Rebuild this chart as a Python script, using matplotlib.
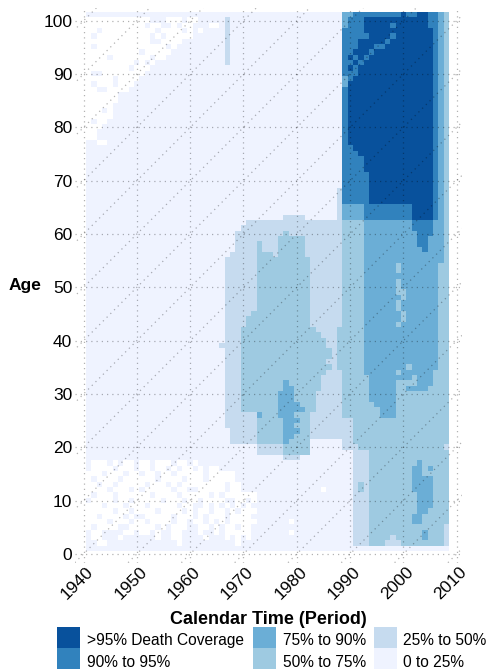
import numpy as np
import matplotlib
matplotlib.use("Agg")
import matplotlib.pyplot as plt
from matplotlib.colors import ListedColormap, BoundaryNorm
from matplotlib.patches import Rectangle
from matplotlib import transforms

plt.rcParams["font.family"] = ["Liberation Sans", "DejaVu Sans"]

# cells: one year wide, one age tall
years = np.arange(1941, 2009)
ages = np.arange(1, 102)

# coverage class per cell, rows from age 101 down to age 1, columns 1941..2008
# groups: 1941-50 1951-60 1961-70 1971-80 1981-88 1989-2008
# '.' = no deaths recorded, 1 = 0-25%, 2 = 25-50%, 3 = 50-75%, 4 = 75-90%, 5 = 90-95%, 6 = >95%
coverage_rows = [
    "1111111111 1111111111 1111111111 1111111111 11111111 44555555555655665543",  # 101
    ".......... ..111...1. .111112111 1111111111 11111111 45556666666666665543",  # 100
    ".......... .1..11.1.. 111..12111 1111111111 11111111 45556666656666665543",  # 99
    "..1....... ...1....1. 1.11112111 1111111111 11111111 55556666666666666543",  # 98
    ".1........ ..1.1..... 1111112111 1111111111 11111111 55555666656666666543",  # 97
    ".......... ..11....11 1111112111 1111111111 11111111 55566666566666666543",  # 96
    ".1........ .....1.111 1111112111 1111111111 11111111 55566655666666666543",  # 95
    ".......... 1.....1111 1111112111 1111111111 11111111 55666566666666666543",  # 94
    "....1..... ..1..11111 1111112111 1111111111 11111111 56565666666666666543",  # 93
    ".........1 .1.1111111 1111112111 1111111111 11111111 55656666666666666543",  # 92
    "........1. ..11111111 1111111111 1111111111 11111111 56566666666666666543",  # 91
    ".11....... .111111111 1111111111 1111111111 11111111 55566666666666666543",  # 90
    ".....1.... 1111111111 1111111111 1111111111 11111111 45666666666666666543",  # 89
    ".1...1...1 1111111111 1111111111 1111111111 11111111 46666666666666666543",  # 88
    "..11....11 1111111111 1111111111 1111111111 11111111 56666666666666666543",  # 87
    "......1111 1111111111 1111111111 1111111111 11111111 56666666666666666543",  # 86
    "......1111 1111111111 1111111111 1111111111 11111111 56666666666666666543",  # 85
    ".....11111 1111111111 1111111111 1111111111 11111111 56666666666666666543",  # 84
    "...1.11111 1111111111 1111111111 1111111111 11111111 56666666666666666543",  # 83
    ".....11111 1111111111 1111111111 1111111111 11111111 56666666666666666543",  # 82
    ".1..111111 1111111111 1111111111 1111111111 11111111 56666666666666666543",  # 81
    "...1111111 1111111111 1111111111 1111111111 11111111 56666666666666666543",  # 80
    "..11111111 1111111111 1111111111 1111111111 11111111 56666666666666666543",  # 79
    "..11111111 1111111111 1111111111 1111111111 11111111 56666666666666666543",  # 78
    "11..111111 1111111111 1111111111 1111111111 11111111 56666666666666666543",  # 77
    "1111111111 1111111111 1111111111 1111111111 11111111 55666666666666666543",  # 76
    "1111111111 1111111111 1111111111 1111111111 11111111 55566666666666666543",  # 75
    "1111111111 1111111111 1111111111 1111111111 11111111 55556666666666666543",  # 74
    "1111111111 1111111111 1111111111 1111111111 11111111 55556666666666666543",  # 73
    "1111111111 1111111111 1111111111 1111111111 11111111 55556666666666666543",  # 72
    "1111111111 1111111111 1111111111 1111111111 11111111 55555666666666666543",  # 71
    "1111111111 1111111111 1111111111 1111111111 11111111 55555666666666666543",  # 70
    "1111111111 1111111111 1111111111 1111111111 11111111 55555666666666666543",  # 69
    "1111111111 1111111111 1111111111 1111111111 11111112 55555666666666666543",  # 68
    "1111111111 1111111111 1111111111 1111111111 11111112 55555666666666666543",  # 67
    "1111111111 1111111111 1111111111 1111111111 11111112 55555666666666666543",  # 66
    "1111111111 1111111111 1111111111 1111111111 11111112 44445555555556666543",  # 65
    "1111111111 1111111111 1111111111 1111111111 11111112 44445555555556666543",  # 64
    "1111111111 1111111111 1111111111 1111111222 21111112 44445555555556666543",  # 63
    "1111111111 1111111111 1111111111 2222222222 22222222 33334444444445555443",  # 62
    "1111111111 1111111111 1111111112 2222222222 22222222 33334444444445555443",  # 61
    "1111111111 1111111111 1111111122 2222222322 22222222 33334444444444555443",  # 60
    "1111111111 1111111111 1111111122 2222223333 32222222 33334444444444554443",  # 59
    "1111111111 1111111111 1111111122 2232223333 32222222 33334444444444554443",  # 58
    "1111111111 1111111111 1111111122 2232223333 32222222 33334444444444454443",  # 57
    "1111111111 1111111111 1111111222 2233323333 32222222 33334444444444444443",  # 56
    "1111111111 1111111111 1111112222 2233333333 33222222 33334444444444444443",  # 55
    "1111111111 1111111111 1111112222 2233333333 33222222 33334444443444444433",  # 54
    "1111111111 1111111111 1111112222 2233333333 33222222 33334444443444444433",  # 53
    "1111111111 1111111111 1111112222 2233333333 33222222 33334444444444444433",  # 52
    "1111111111 1111111111 1111112222 2233333333 33222222 33334444443444444433",  # 51
    "1111111111 1111111111 1111112222 2233333333 33222222 33334444443444444433",  # 50
    "1111111111 1111111111 1111112222 2233333333 33222222 33334444443344444433",  # 49
    "1111111111 1111111111 1111112222 2233333333 33222222 33334444444344444433",  # 48
    "1111111111 1111111111 1111112222 2233333333 33222222 33334444443444444433",  # 47
    "1111111111 1111111111 1111112222 2233333333 33222222 33334444443444444433",  # 46
    "1111111111 1111111111 1111112222 2333333333 33222222 33334444444344444433",  # 45
    "1111111111 1111111111 1111112222 3333333333 33222222 33334444444344444433",  # 44
    "1111111111 1111111111 1111112222 3333333333 33222222 33334444443444444433",  # 43
    "1111111111 1111111111 1111112223 3333333333 33322223 33334444444444444433",  # 42
    "1111111111 1111111111 1111112223 3333333333 33332223 33334444444444444433",  # 41
    "1111111111 1111111111 1111112223 3333333333 33333223 33334444444444444433",  # 40
    "1111111111 1111111111 1111122223 3333333333 33333223 33334444444444444433",  # 39
    "1111111111 1111111111 1111112223 3333333333 33333323 33334444444444444433",  # 38
    "1111111111 1111111111 1111112223 3333333333 33333323 33334444444444444433",  # 37
    "1111111111 1111111111 1111112223 3333333333 33333223 33334444444444444433",  # 36
    "1111111111 1111111111 1111112223 3333333333 33333323 33334444444434444433",  # 35
    "1111111111 1111111111 1111112223 3333333333 33333222 33334444443444444333",  # 34
    "1111111111 1111111111 1111112223 3333333333 33332222 33333444444443444333",  # 33
    "1111111111 1111111111 1111112223 3333333433 33332222 33333444443333444333",  # 32
    "1111111111 1111111111 1111112223 3333333443 33332222 33333444443344443333",  # 31
    "1111111111 1111111111 1111112223 3333334443 33322222 33333444443333333333",  # 30
    "1111111111 1111111111 1111112223 3333334443 33322222 33333444443333333333",  # 29
    "1111111111 1111111111 1111112223 3333334444 33322222 33333344443333333333",  # 28
    "1111111111 1111111111 1111112223 3333334444 43322222 33333334443333333333",  # 27
    "1111111111 1111111111 1111112222 2243334443 33222222 33333334443333333333",  # 26
    "1111111111 1111111111 1111112222 2233333444 33222222 22333333333333333333",  # 25
    "1111111111 1111111111 1111112222 2233333443 33222222 22333333333333333333",  # 24
    "1111111111 1111111111 1111111222 2233333444 33222222 22333333333333333333",  # 23
    "1111111111 1111111111 1111111222 2233333443 33222222 22333333333333333333",  # 22
    "1111111111 1111111111 1111111222 2233333433 33111111 22333333333333333333",  # 21
    "1111111111 1111111111 1111111111 1122222333 33111111 22233333333333333332",  # 20
    "1111111111 1111111111 1111111111 1122222333 33111111 11222333333333333333",  # 19
    "1111111111 1111111111 1111111111 1111111222 11111111 11222333333333333333",  # 18
    "1...1.1..1 ..1...1..1 .111111111 1111111111 11111111 11222333333333433333",  # 17
    "1....1...1 ..1..1.1.. 1.1..11111 1111111111 11111111 11222333333334434333",  # 16
    "...1...1.. 1..1..1... ..1.....11 1111111111 11111111 11222333333334433333",  # 15
    ".1....1... ...1....1. ..1.....11 1111111111 11111111 11222333333334444333",  # 14
    "..1..1.... .1...1.1.. ......1..1 1111111111 11111111 11232333333334444333",  # 13
    "....1...1. 1.....1..1 1.....1..1 1111111111 1111.111 11232333333334444333",  # 12
    ".1...1.... ..1....1.. ...1.1.... ..11111111 11111111 11222333333333444333",  # 11
    "1....1..1. ....1...1. .1....11.. 1.11111111 11111111 11222333333333444333",  # 10
    "...1...1.. .1.....1.. 11.1.1.1.1 .111111111 11111111 11222333333333444333",  # 9
    ".....1..1. ...1....1. 1..1..1.1. ..11111111 11111111 11222333333333443333",  # 8
    "..1....1.1 1.....1... 1.1...1... .111111111 11111111 11222333333334433333",  # 7
    "....1...1. .1....1..1 ..1.1.1... ..111111.1 11111111 11222333333334433333",  # 6
    ".1....11.. ...1.1...1 1..1.1..1. .111111111 11111111 11222333333333333332",  # 5
    "1..1111..1 ..1.11..11 1.11.1.... .1111111.1 11111111 11222333333333343332",  # 4
    "1..111.111 111.11..11 11.111.1.1 .111111111 11111111 11222333323333343332",  # 3
    "11..111111 1111111.11 11111111.1 1111111111 11111111 11222333222333333332",  # 2
    "1111111111 1111111111 1111111111 1111111111 11111111 11111111111111111111",  # 1
]

class_labels = [">95% Death Coverage", "90% to 95%", "75% to 90%",
                "50% to 75%", "25% to 50%", "0 to 25%"]
class_colors = ["#08519c", "#3182bd", "#6baed6", "#9ecae1", "#c6dbef", "#eff3ff"]

x_ticks = [1940, 1950, 1960, 1970, 1980, 1990, 2000, 2010]
y_ticks = [0, 10, 20, 30, 40, 50, 60, 70, 80, 90, 100]
cohorts = [1840, 1850, 1860, 1870, 1880, 1890, 1900, 1910, 1920,
           1930, 1940, 1950, 1960, 1970, 1980, 1990, 2000, 2010]

grid = np.full((len(ages), len(years)), np.nan)
for r, row in enumerate(coverage_rows):
    cells = row.replace(" ", "")
    assert len(cells) == len(years), (r, len(cells))
    for c, ch in enumerate(cells):
        if ch != ".":
            grid[r, c] = int(ch)
assert len(coverage_rows) == len(ages)

W, H = 490, 671
fig = plt.figure(figsize=(W / 100, H / 100), dpi=100)


def fx(px):
    return px / W


def fy(py):
    return 1 - py / H


ax = fig.add_axes([fx(75), fy(563), 387 / W, 555 / H])

# colour 1..6 from lightest to darkest
cmap = ListedColormap(class_colors[::-1])
norm = BoundaryNorm([0.5, 1.5, 2.5, 3.5, 4.5, 5.5, 6.5], cmap.N)
ax.imshow(np.ma.masked_invalid(grid), cmap=cmap, norm=norm, origin="upper",
          extent=(years[0] - 0.5, years[-1] + 0.5, ages[0] - 0.5, ages[-1] + 0.5),
          aspect="auto", interpolation="nearest", zorder=1)

ax.set_xlim(1938.4, 2011.0)
ax.set_ylim(-1.7, 102.4)
for s in ax.spines.values():
    s.set_visible(False)

gkw = dict(color="black", alpha=0.3, lw=0.9, linestyle=(0, (1, 3.2)), zorder=3)
for v in y_ticks:
    ax.axhline(v, **gkw)
for v in x_ticks:
    ax.axvline(v, **gkw)
# cohort diagonals
for c in cohorts:
    ax.plot([c - 10, c + 120], [-10, 120], **gkw)

ax.set_yticks(y_ticks)
ax.set_yticklabels([str(v) for v in y_ticks])
ax.tick_params(axis="y", length=0, pad=2, labelsize=12.5)
ax.set_xticks([])

# rotated year labels
off = transforms.ScaledTranslation(-6 / 100, -20 / 100, fig.dpi_scale_trans)
for v in x_ticks:
    ax.text(v, 0, str(v), transform=ax.get_xaxis_transform() + off,
            rotation=45, rotation_mode="anchor", ha="center", va="center",
            fontsize=12.5, clip_on=False)

fig.text(fx(268.5), fy(623.5), "Calendar Time (Period)", ha="center",
         va="baseline", fontsize=13, fontweight="bold")
fig.text(fx(25), fy(290), "Age", ha="center", va="baseline",
         fontsize=12.5, fontweight="bold")

# legend, three columns of two
patch_x = [57, 253, 374]
text_x = [87, 283, 403]
patch_y = [627, 648]
base_y = [645, 667]
for i, (lab, col) in enumerate(zip(class_labels, class_colors)):
    c, r = divmod(i, 2)
    fig.add_artist(Rectangle((fx(patch_x[c]), fy(patch_y[r] + 21)), 23 / W, 21 / H,
                             transform=fig.transFigure, facecolor=col,
                             edgecolor="none"))
    fig.text(fx(text_x[c]), fy(base_y[r]), lab, ha="left", va="baseline",
             fontsize=11.2)

fig.savefig("out.png", dpi=100)
